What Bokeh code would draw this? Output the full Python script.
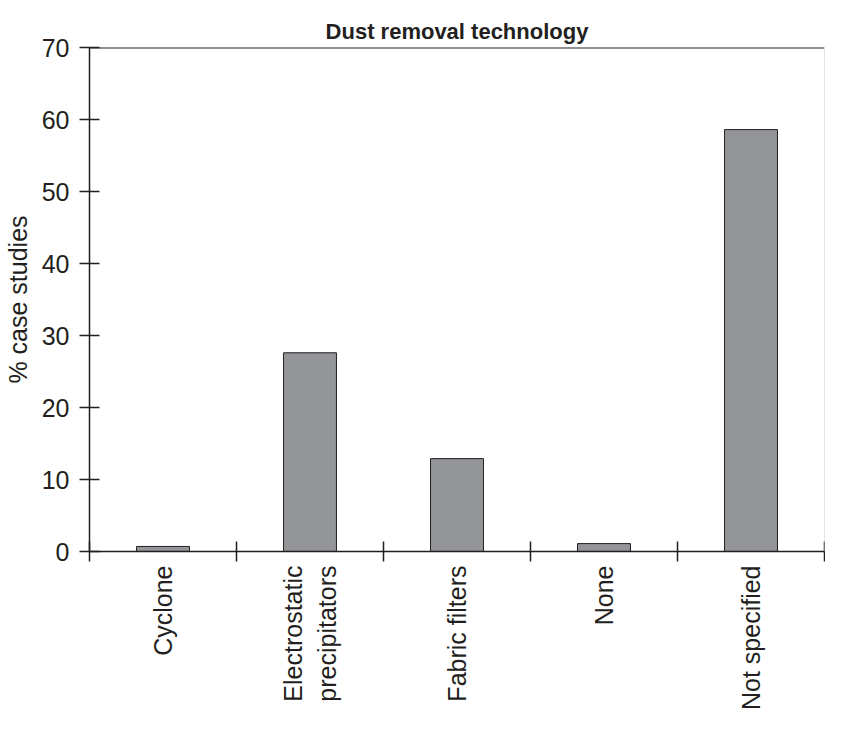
import math
from bokeh.plotting import figure
from bokeh.models import FixedTicker, Span, ColumnDataSource, Range1d
from bokeh.embed import file_html
from bokeh.resources import INLINE

categories = ["Cyclone", "Electrostatic\nprecipitators", "Fabric filters", "None", "Not specified"]
values = [0.7, 27.6, 12.9, 1.1, 58.6]
y_ticks = [0, 10, 20, 30, 40, 50, 60, 70]

centers = [i + 0.5 for i in range(len(categories))]
bounds = list(range(len(categories) + 1))

FONT = "Liberation Sans"
DARK = "#231f20"

p = figure(width=825, height=713, output_backend="svg", toolbar_location=None,
           x_range=Range1d(0, len(categories)), y_range=Range1d(0, 70),
           min_border_left=82, min_border_right=1, min_border_top=47, min_border_bottom=10)

src = ColumnDataSource(dict(x=centers, top=values))
p.vbar(x="x", top="top", width=0.36, bottom=0, source=src,
       fill_color="#939598", line_color=DARK, line_width=1)

p.title.text = "Dust removal technology"
p.title.text_font = FONT
p.title.text_font_size = "22px"
p.title.text_font_style = "bold"
p.title.text_color = DARK
p.title.align = "center"
p.title.standoff = 8

p.grid.visible = False
p.outline_line_color = None
p.background_fill_color = "white"
p.border_fill_color = "white"

# y axis
ya = p.yaxis[0]
ya.ticker = FixedTicker(ticks=y_ticks)
ya.minor_tick_line_color = None
ya.major_tick_in = 10
ya.major_tick_out = 10
ya.major_tick_line_color = DARK
ya.major_tick_line_width = 1.5
ya.axis_line_color = DARK
ya.axis_line_width = 1.5
ya.major_label_text_font = FONT
ya.major_label_text_font_size = "25px"
ya.major_label_text_color = DARK
ya.major_label_standoff = 10
ya.axis_label = "% case studies"
ya.axis_label_text_font = FONT
ya.axis_label_text_font_size = "25px"
ya.axis_label_text_font_style = "normal"
ya.axis_label_text_color = DARK
ya.axis_label_standoff = 7

# x axis
xa = p.xaxis[0]
xa.ticker = FixedTicker(ticks=centers, minor_ticks=bounds)
xa.major_label_overrides = {c: lab for c, lab in zip(centers, categories)}
xa.major_tick_in = 0
xa.major_tick_out = 10
xa.major_tick_line_color = None
xa.minor_tick_in = 10
xa.minor_tick_out = 10
xa.minor_tick_line_color = DARK
xa.minor_tick_line_width = 1.5
xa.axis_line_color = DARK
xa.axis_line_width = 1.5
xa.major_label_orientation = math.pi / 2
xa.major_label_text_font = FONT
xa.major_label_text_font_size = "25px"
xa.major_label_text_color = DARK
xa.major_label_standoff = 4

p.add_layout(Span(location=70, dimension="width", line_color=DARK, line_width=2))
p.add_layout(Span(location=len(categories), dimension="height", line_color="#c8c8c8", line_width=1))

open("out.html", "w").write(file_html(p, INLINE))
